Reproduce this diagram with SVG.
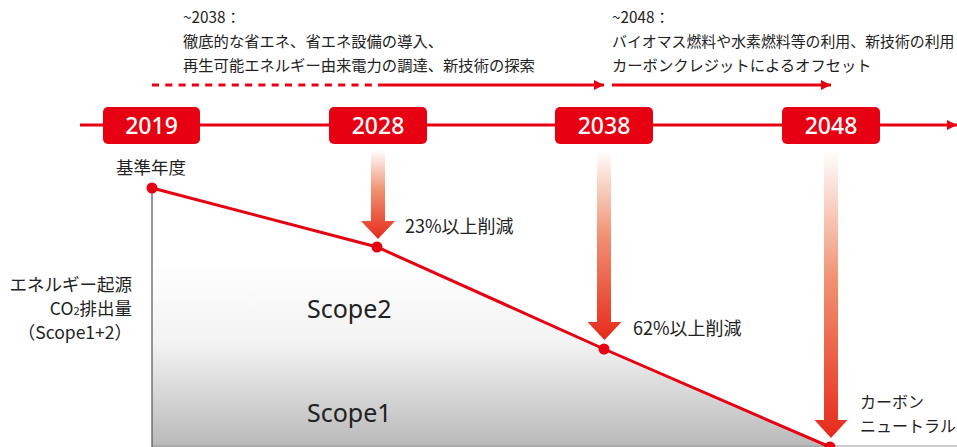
<svg xmlns="http://www.w3.org/2000/svg" width="957" height="447" viewBox="0 0 957 447">
<defs>
<style>
.t{font-family:"Noto Sans CJK JP","Noto Sans",sans-serif;fill:#222;font-size:15.3px}
.l{font-family:"Noto Sans CJK JP","Noto Sans",sans-serif;fill:#222;font-size:17.5px}
.yr{font-family:"Noto Sans","Noto Sans CJK JP",sans-serif;fill:#fff;font-size:23px;font-weight:500;text-anchor:middle}
.sc{font-family:"Noto Sans","Noto Sans CJK JP",sans-serif;fill:#222;font-size:25px}
.red{stroke:#e60012;stroke-width:3;fill:none}
.box{fill:#e60012}
.dot{fill:#e60012}
.dn{fill:url(#dg)}
</style>
<linearGradient id="fillg" gradientUnits="userSpaceOnUse" x1="0" y1="260" x2="0" y2="447">
<stop offset="0" stop-color="#ffffff"/>
<stop offset="0.45" stop-color="#f2f2f2"/>
<stop offset="1" stop-color="#b9b9b9"/>
</linearGradient>
<linearGradient id="dg" x1="0" y1="0" x2="0" y2="1">
<stop offset="0" stop-color="#ffffff"/>
<stop offset="0.45" stop-color="#f09272"/>
<stop offset="1" stop-color="#e62a1a"/>
</linearGradient>
<marker id="ah" viewBox="0 0 10 10" refX="10" refY="5" markerWidth="10" markerHeight="10" markerUnits="userSpaceOnUse" orient="auto">
<path d="M0,0 L10,5 L0,10 Z" fill="#e60012"/>
</marker>
</defs>

<g id="area">
<path d="M152,188 L377,247 L604,349 L830,447 L152,447 Z" fill="url(#fillg)"/>
<line x1="152" y1="446" x2="957" y2="446" stroke="#999" stroke-width="1.2"/>
<line x1="152" y1="188" x2="152" y2="447" stroke="#555" stroke-width="1.2"/>
</g>

<g id="connectors">
<line x1="80" y1="125" x2="957" y2="125" stroke="#e60012" stroke-width="3" marker-end="url(#ah)"/>
<line x1="152" y1="85" x2="384" y2="85" stroke="#e60012" stroke-width="3" stroke-dasharray="7 6.3"/>
<line x1="384" y1="85" x2="604" y2="85" stroke="#e60012" stroke-width="3" marker-end="url(#ah)"/>
<line x1="612" y1="85" x2="831" y2="85" stroke="#e60012" stroke-width="3" marker-end="url(#ah)"/>
<polyline class="red" points="152,188 377,247 604,349 830,447"/>
</g>

<g id="arrow2028"><path class="dn" d="M371,150 H385 V221 H395 L378,239 L361,221 H371 Z"/></g>
<g id="arrow2038"><path class="dn" d="M597,150 H611 V322 H621.5 L604.5,340 L587.5,322 H597 Z"/></g>
<g id="arrow2048"><path class="dn" d="M824,150 H838 V420 H847.5 L831,438 L814.5,420 H824 Z"/></g>

<g id="y2019"><rect class="box" x="103" y="107" width="97" height="37" rx="5"/><text class="yr" x="151.5" y="134">2019</text></g>
<g id="y2028"><rect class="box" x="329" y="107" width="98" height="37" rx="5"/><text class="yr" x="378" y="134">2028</text></g>
<g id="y2038"><rect class="box" x="555" y="107" width="98" height="37" rx="5"/><text class="yr" x="604" y="134">2038</text></g>
<g id="y2048"><rect class="box" x="782" y="107" width="98" height="37" rx="5"/><text class="yr" x="831" y="134">2048</text></g>

<g id="dots">
<circle class="dot" cx="152" cy="188" r="5.5"/>
<circle class="dot" cx="377" cy="247" r="5.5"/>
<circle class="dot" cx="604" cy="349" r="5.5"/>
<circle class="dot" cx="830" cy="447" r="5.5"/>
</g>

<g id="note2038">
<text class="t" x="183" y="23">~2038：</text>
<text class="t" x="183" y="47">徹底的な省エネ、省エネ設備の導入、</text>
<text class="t" x="183" y="71">再生可能エネルギー由来電力の調達、新技術の探索</text>
</g>
<g id="note2048">
<text class="t" x="612" y="23">~2048：</text>
<text class="t" x="612" y="47" style="font-size:14.9px">バイオマス燃料や水素燃料等の利用、新技術の利用</text>
<text class="t" x="612" y="71">カーボンクレジットによるオフセット</text>
</g>

<g id="labels">
<text class="l" x="151" y="174" text-anchor="middle">基準年度</text>
<text class="l" x="405" y="233" style="font-size:18px">23%以上削減</text>
<text class="l" x="633" y="335" style="font-size:18px">62%以上削減</text>
<text class="l" x="860" y="408" style="font-size:16px">カーボン</text>
<text class="l" x="860" y="432" style="font-size:16px">ニュートラル</text>
<text class="l" x="132" y="291" text-anchor="end">エネルギー起源</text>
<text class="l" x="132" y="315" text-anchor="end">CO<tspan font-size="11">2</tspan>排出量</text>
<text class="l" x="132" y="339" text-anchor="end">（Scope1+2）</text>
<text class="sc" x="307" y="318">Scope2</text>
<text class="sc" x="307" y="422">Scope1</text>
</g>
</svg>
